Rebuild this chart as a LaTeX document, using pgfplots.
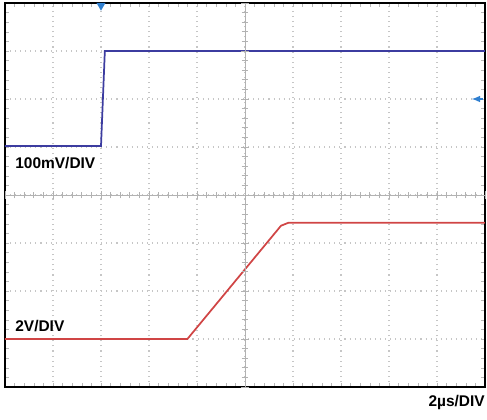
\documentclass[border=0pt]{standalone}
\usepackage{pgfplots}
\pgfplotsset{compat=1.18}
\usetikzlibrary{shapes.geometric}
\usepackage{fontspec}
\setmainfont{Liberation Sans}
\definecolor{trblue}{HTML}{3C3CA0}
\definecolor{trred}{HTML}{D04545}
\definecolor{mkblue}{HTML}{2F7FD0}
\begin{document}
\begin{tikzpicture}
% 1 px = 0.75pt; frame 480x384 px
\path[use as bounding box] (-3.75pt,-24pt) rectangle (361.5pt,290.25pt);
\begin{axis}[
    at={(0,0)},anchor=south west,
    scale only axis,width=360pt,height=288pt,
    xmin=0,xmax=10,ymin=0,ymax=8,
    xtick={0,...,10},ytick={0,...,8},
    xticklabels={},yticklabels={},
    minor tick num=4,
    tick align=inside,
    major tick length=3pt,minor tick length=3pt,
    tick style={gray!55,line width=0.4pt},
    grid=major,
    major grid style={gray!45,dash pattern=on 0.8pt off 3pt,line width=0.8pt},
    axis line style={black,line width=1.5pt},
    clip=false,
]
% CH1, 100mV/div
\addplot[trblue,line width=1.3pt,mark=none] coordinates {
    (0,5.02) (2.0,5.02) (2.08,7.0) (10,7.0)
};
% CH2, 2V/div
\addplot[trred,line width=1.3pt,mark=none] coordinates {
    (0,1.0) (3.8,1.0) (5.75,3.36) (5.9,3.42) (10,3.42)
};
% trigger markers
\node[mkblue,fill=mkblue,regular polygon,regular polygon sides=3,shape border rotate=180,inner sep=1.4pt] at (axis cs:2.0,7.95) {};
\draw[mkblue,line width=1.2pt,-latex] (axis cs:9.95,6.0) -- (axis cs:9.72,6.0);
\node[anchor=west,font=\fontsize{11.6}{13}\selectfont\bfseries,inner sep=0pt] at (axis cs:0.21,4.67) {100mV/DIV};
\node[anchor=west,font=\fontsize{11.6}{13}\selectfont\bfseries,inner sep=0pt] at (axis cs:0.21,1.27) {2V/DIV};
\node[anchor=east,font=\fontsize{11.6}{13}\selectfont\bfseries,inner sep=0pt] at ([yshift=-12pt]axis cs:10,0) {2µs/DIV};
\end{axis}
% centre graticule with minor ticks
\begin{axis}[
    at={(0,0)},anchor=south west,
    scale only axis,width=360pt,height=288pt,
    xmin=-5,xmax=5,ymin=-4,ymax=4,
    axis lines=center,
    axis line style={gray!60,line width=0.5pt,-},
    xtick={-5,...,5},ytick={-4,...,4},
    xticklabels={},yticklabels={},
    minor tick num=4,
    tick align=center,
    major tick length=6pt,minor tick length=5pt,
    tick style={gray!60,line width=0.5pt},
]
\end{axis}
\end{tikzpicture}
\end{document}
